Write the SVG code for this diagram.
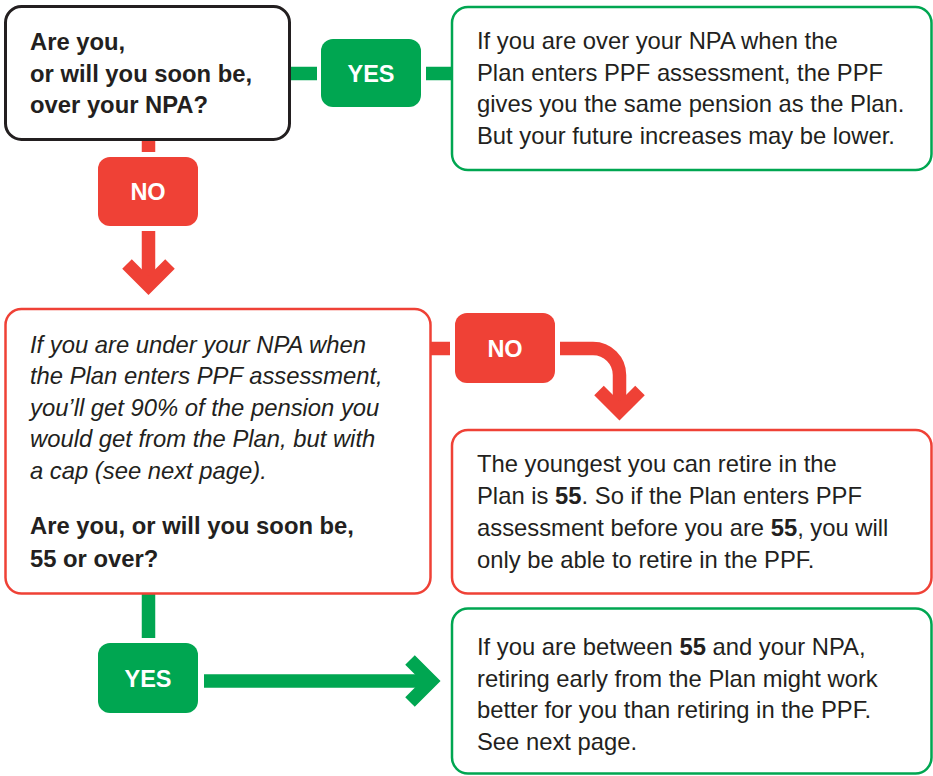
<svg xmlns="http://www.w3.org/2000/svg" width="933" height="776" viewBox="0 0 933 776">
<style>
.t{font-family:"Liberation Sans",Arial,sans-serif;font-size:23.8px;fill:#231F20}
.b{font-weight:bold}
.i{font-style:italic}
.lbl{font-family:"Liberation Sans",Arial,sans-serif;font-size:23.5px;font-weight:bold;fill:#fff;text-anchor:middle}
.gbox{fill:#fff;stroke:#00A651;stroke-width:2.5}
.rbox{fill:#fff;stroke:#EF4136;stroke-width:2.5}
.g{fill:#00A651}
.r{fill:#EF4136}
.gl{fill:none;stroke:#00A651;stroke-width:13.5}
.rl{fill:none;stroke:#EF4136;stroke-width:13.5}
</style>
<rect width="933" height="776" fill="#fff"/>
<g id="connectors">
  <line class="gl" x1="290" y1="73.5" x2="317" y2="73.5"/>
  <line class="gl" x1="426" y1="73.5" x2="453" y2="73.5"/>
  <line class="rl" x1="148.5" y1="140" x2="148.5" y2="152"/>
  <line class="rl" x1="148.5" y1="231" x2="148.5" y2="284"/>
  <polyline class="rl" points="127,264 148.5,285.5 170,264" stroke-miterlimit="10"/>
  <line class="rl" x1="431" y1="348.5" x2="450" y2="348.5"/>
  <path class="rl" d="M560 348.5 H593 A26.5 26.5 0 0 1 619.5 375 V408"/>
  <polyline class="rl" points="599,390.5 619.5,411 640,390.5" stroke-miterlimit="10"/>
  <line class="gl" x1="148.5" y1="594" x2="148.5" y2="638"/>
  <line class="gl" x1="204" y1="681" x2="430" y2="681"/>
  <polyline class="gl" points="410,660 431,681 410,702" stroke-miterlimit="10"/>
</g>
<g id="q1">
  <rect x="5.5" y="6.5" width="284" height="133" rx="16" fill="#fff" stroke="#231F20" stroke-width="3"/>
  <text class="t b" x="30" y="50">Are you,</text>
  <text class="t b" x="30" y="82">or will you soon be,</text>
  <text class="t b" x="30" y="113">over your NPA?</text>
</g>
<g id="yes1">
  <rect class="g" x="321" y="39" width="100" height="68" rx="12"/>
  <text class="lbl" x="371" y="81.5">YES</text>
</g>
<g id="a1">
  <rect class="gbox" x="452" y="7" width="479.5" height="163" rx="16"/>
  <text class="t" x="477" y="49">If you are over your NPA when the</text>
  <text class="t" x="477" y="81">Plan enters PPF assessment, the PPF</text>
  <text class="t" x="477" y="112">gives you the same pension as the Plan.</text>
  <text class="t" x="477" y="144">But your future increases may be lower.</text>
</g>
<g id="no1">
  <rect class="r" x="98" y="157" width="100" height="69" rx="12"/>
  <text class="lbl" x="148" y="200">NO</text>
</g>
<g id="q2">
  <rect class="rbox" x="5.5" y="309" width="425" height="284.5" rx="16"/>
  <text class="t i" x="30" y="353">If you are under your NPA when</text>
  <text class="t i" x="30" y="384">the Plan enters PPF assessment,</text>
  <text class="t i" x="30" y="416">you’ll get 90% of the pension you</text>
  <text class="t i" x="30" y="447">would get from the Plan, but with</text>
  <text class="t i" x="30" y="479">a cap (see next page).</text>
  <text class="t b" x="30" y="534">Are you, or will you soon be,</text>
  <text class="t b" x="30" y="567">55 or over?</text>
</g>
<g id="no2">
  <rect class="r" x="455" y="313" width="100" height="70" rx="12"/>
  <text class="lbl" x="505" y="356.5">NO</text>
</g>
<g id="a2">
  <rect class="rbox" x="452" y="430" width="479.5" height="163.5" rx="16"/>
  <text class="t" x="477" y="472">The youngest you can retire in the</text>
  <text class="t" x="477" y="504">Plan is <tspan class="b">55</tspan>. So if the Plan enters PPF</text>
  <text class="t" x="477" y="536">assessment before you are <tspan class="b">55</tspan>, you will</text>
  <text class="t" x="477" y="568">only be able to retire in the PPF.</text>
</g>
<g id="yes2">
  <rect class="g" x="98" y="643" width="100" height="70" rx="12"/>
  <text class="lbl" x="148" y="686.5">YES</text>
</g>
<g id="a3">
  <rect class="gbox" x="452" y="608.5" width="479.5" height="165" rx="16"/>
  <text class="t" x="477" y="655">If you are between <tspan class="b">55</tspan> and your NPA,</text>
  <text class="t" x="477" y="687">retiring early from the Plan might work</text>
  <text class="t" x="477" y="718">better for you than retiring in the PPF.</text>
  <text class="t" x="477" y="750">See next page.</text>
</g>
</svg>
